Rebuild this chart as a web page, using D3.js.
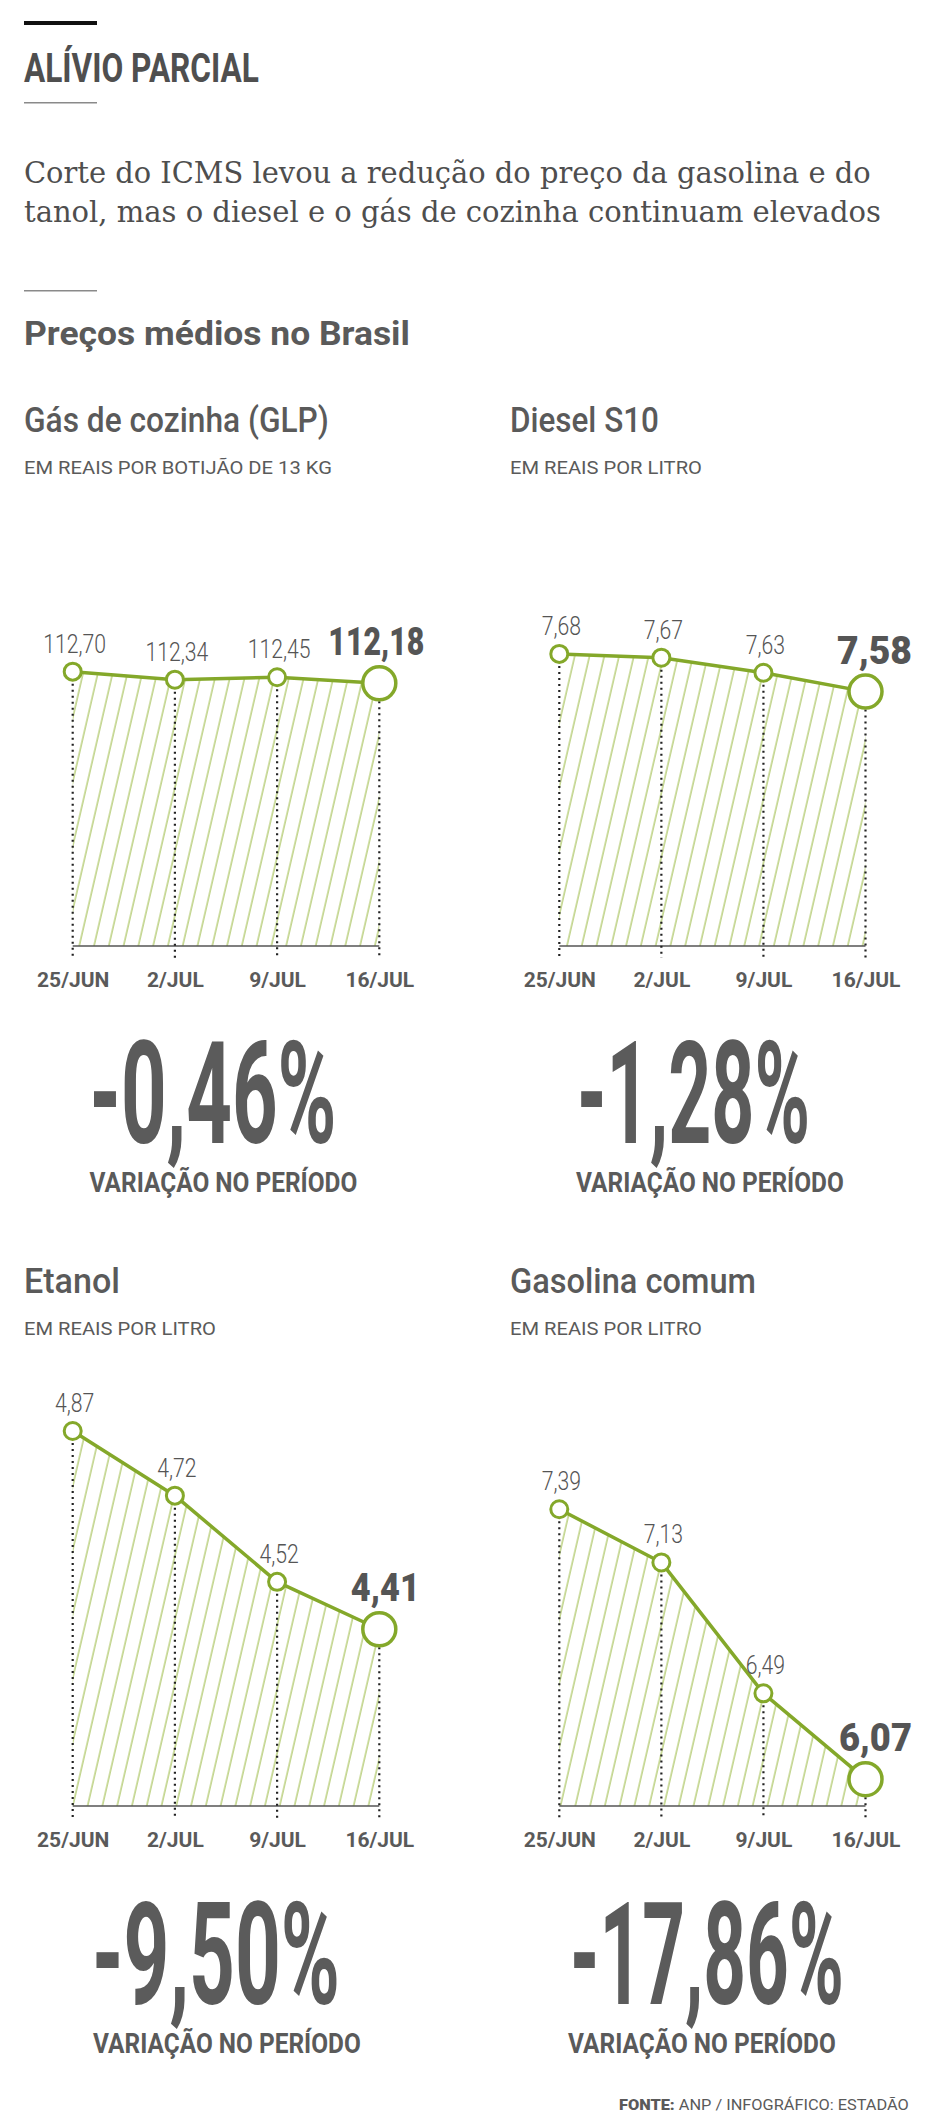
<!DOCTYPE html>
<html>
<head>
<meta charset="utf-8">
<script src="https://cdn.jsdelivr.net/npm/d3@7"></script>
<style>
  html, body { margin: 0; padding: 0; background: #fff; }
  svg { display: block; }
</style>
</head>
<body>
<script>
// ---------- DATA ----------
const dates = ["25/JUN", "2/JUL", "9/JUL", "16/JUL"];
const glp = [112.70, 112.34, 112.45, 112.18];
const diesel = [7.68, 7.67, 7.63, 7.58];
const etanol = [4.87, 4.72, 4.52, 4.41];
const gasolina = [7.39, 7.13, 6.49, 6.07];
const panelTitles = ["Gás de cozinha (GLP)", "Diesel S10", "Etanol", "Gasolina comum"];
const panelUnits = ["EM REAIS POR BOTIJÃO DE 13 KG", "EM REAIS POR LITRO", "EM REAIS POR LITRO", "EM REAIS POR LITRO"];
const variations = ["-0,46%", "-1,28%", "-9,50%", "-17,86%"];
const yDomains = [[100.4, 113.85], [6.905, 7.701], [4.0, 4.928], [5.939, 7.895]];
const series = [glp, diesel, etanol, gasolina];

// ---------- STYLE / LAYOUT ----------
const W = 930, H = 2116;
const GRAY = "#5a5a5a";
const GREEN = "#84a82a";
const HATCH = "#a9c45e";
const SANS = "Roboto, 'Noto Sans', sans-serif";
const SERIF = "'DejaVu Serif', 'Liberation Serif', serif";

const loc = d3.formatLocale({decimal: ",", thousands: ".", grouping: [3], currency: ["R$", ""]});
const fmt = loc.format(".2f");

const svg = d3.select("body").append("svg").attr("width", W).attr("height", H);
const defs = svg.append("defs");
const pat = defs.append("pattern").attr("id", "hatch")
  .attr("patternUnits", "userSpaceOnUse")
  .attr("width", 14.4).attr("height", 20)
  .attr("patternTransform", "rotate(13)");
pat.append("line").attr("x1", 2).attr("x2", 2).attr("y1", -1).attr("y2", 21)
  .attr("stroke", HATCH).attr("stroke-width", 1.2);

// text helper: horizontal condensing done with a geometric scale
function T(g, o) {
  const t = g.append("text")
    .attr("x", 0).attr("y", 0)
    .attr("font-family", o.family || SANS)
    .attr("font-size", o.size)
    .attr("font-weight", o.weight || 400)
    .attr("fill", o.fill || GRAY)
    .attr("text-anchor", o.anchor || "start")
    .text(o.text);
  let sx = 1;
  if (o.w) sx = o.w / t.node().getComputedTextLength();
  else if (o.k) sx = o.k;
  t.attr("transform", `translate(${o.x},${o.y}) scale(${sx},1)`);
  return t;
}

// ---------- HEADER ----------
svg.append("rect").attr("x", 24).attr("y", 21).attr("width", 73).attr("height", 4).attr("fill", "#111");
T(svg, {x: 24, y: 81.7, text: "ALÍVIO PARCIAL", size: 40, weight: 700, w: 235, fill: "#4f4f4f"});
svg.append("line").attr("x1", 24).attr("x2", 97).attr("y1", 102.7).attr("y2", 102.7).attr("stroke", "#8a8a8a").attr("stroke-width", 1.5);
T(svg, {x: 24, y: 183.3, text: "Corte do ICMS levou a redução do preço da gasolina e do", size: 30, family: SERIF, w: 847, fill: "#4e4e4e"});
T(svg, {x: 24, y: 221.7, text: "tanol, mas o diesel e o gás de cozinha continuam elevados", size: 30, family: SERIF, w: 857, fill: "#4e4e4e"});
svg.append("line").attr("x1", 24).attr("x2", 97).attr("y1", 290.7).attr("y2", 290.7).attr("stroke", "#8a8a8a").attr("stroke-width", 1.5);
T(svg, {x: 24, y: 345, text: "Preços médios no Brasil", size: 33, weight: 700, w: 386});

// ---------- PANELS ----------
const titleW = [305, 149, 96, 246];
const unitW = [308, 192, 192, 192];
const pctW = [247, 233, 248, 274];
const pctX = [89.5, 577, 92, 570];
const varX = [89.5, 576, 93, 568];
const bigW = [96, 75, 69, 73];
const bigDx = [-3, 9, 6, 10];

series.forEach((vals, i) => {
  const col = i % 2, row = Math.floor(i / 2);
  const left = col ? 510 : 24;
  const base = row ? 1806 : 946;
  const dy = row ? 861 : 0;
  const plotH = row ? 400 : 300;
  const g = svg.append("g");

  const x = d3.scalePoint().domain(dates).range(col ? [559.3, 865.5] : [72.7, 379.3]);
  const y = d3.scaleLinear().domain(yDomains[i]).range([base, base - plotH]);

  T(g, {x: left, y: 432 + dy, text: panelTitles[i], size: 35, weight: 500, w: titleW[i]});
  T(g, {x: left, y: 474 + dy, text: panelUnits[i], size: 18.5, weight: 400, w: unitW[i]});

  const pts = vals.map((v, k) => ({d: dates[k], v, k}));

  // hatched area
  const area = d3.area().x(p => x(p.d)).y0(base).y1(p => y(p.v));
  g.append("path").attr("d", area(pts)).attr("fill", "url(#hatch)");

  // baseline
  g.append("line").attr("x1", x(dates[0])).attr("x2", x(dates[3]))
    .attr("y1", base).attr("y2", base).attr("stroke", "#555").attr("stroke-width", 1.5);

  // dotted guides
  g.selectAll(".guide").data(pts).join("line")
    .attr("x1", p => x(p.d)).attr("x2", p => x(p.d))
    .attr("y1", p => y(p.v)).attr("y2", base + 12)
    .attr("stroke", "#222").attr("stroke-width", 2.2)
    .attr("stroke-dasharray", "2,4");

  // line
  const line = d3.line().x(p => x(p.d)).y(p => y(p.v));
  g.append("path").attr("d", line(pts)).attr("fill", "none")
    .attr("stroke", GREEN).attr("stroke-width", 3.5).attr("stroke-linejoin", "round");

  // markers
  g.selectAll(".pt").data(pts).join("circle")
    .attr("cx", p => x(p.d)).attr("cy", p => y(p.v))
    .attr("r", p => p.k === 3 ? 16.5 : 8.5)
    .attr("fill", "#fff").attr("stroke", GREEN)
    .attr("stroke-width", p => p.k === 3 ? 3.5 : 3);

  // value labels
  pts.forEach(p => {
    if (p.k < 3) {
      T(g, {x: x(p.d) + 2, y: y(p.v) - 19, text: fmt(p.v), size: 26.5, weight: 300, anchor: "middle", fill: "#555", k: 0.8});
    } else {
      T(g, {x: x(p.d) + bigDx[i], y: y(p.v) - 28, text: fmt(p.v), size: 39, weight: 900, anchor: "middle", fill: "#555", w: bigW[i]});
    }
  });

  // date axis
  const ax = g.append("g").attr("transform", `translate(0,${base})`)
    .call(d3.axisBottom(x).tickSize(0).tickPadding(26));
  ax.select(".domain").remove();
  ax.attr("font-family", SANS).attr("font-size", 21).attr("font-weight", 700);
  ax.selectAll("text").attr("fill", GRAY);

  // variation
  T(g, {x: pctX[i], y: 1143 + dy, text: variations[i], size: 143, weight: 700, w: pctW[i], fill: "#5b5b5b"});
  T(g, {x: varX[i], y: 1192 + dy, text: "VARIAÇÃO NO PERÍODO", size: 28, weight: 700, w: 268});
});

// ---------- FOOTER ----------
const f = svg.append("text").attr("x", 0).attr("y", 0)
  .attr("font-family", SANS).attr("font-size", 15).attr("fill", GRAY);
f.append("tspan").attr("font-weight", 900).text("FONTE:");
f.append("tspan").attr("font-weight", 400).text(" ANP / INFOGRÁFICO: ESTADÃO");
const fsx = 290 / f.node().getComputedTextLength();
f.attr("transform", `translate(619,2110) scale(${fsx},1)`);
</script>
</body>
</html>
